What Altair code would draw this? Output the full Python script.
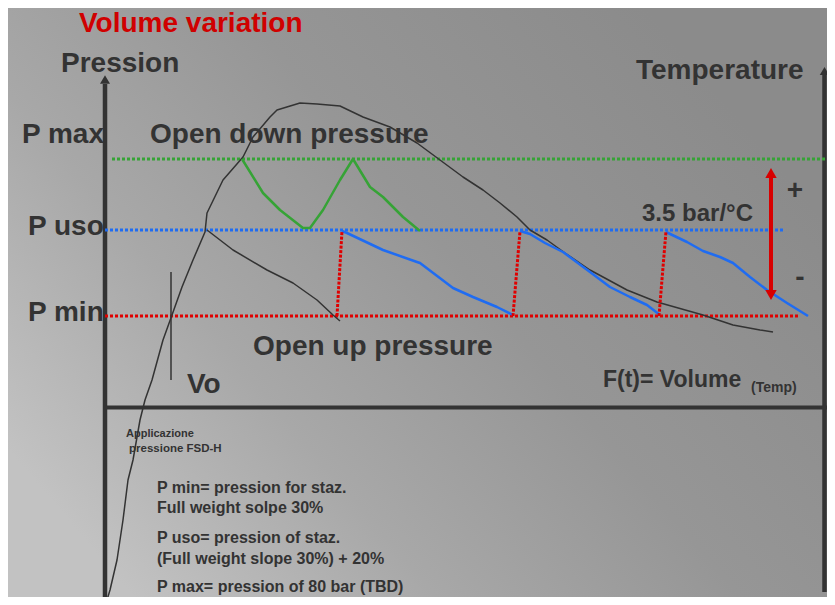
import altair as alt
import pandas as pd

# ---------------- data (picture units) ----------------
# main pressure / volume curve (thin black)
curve_x = [107, 110, 117, 123, 128, 133, 140, 145, 152, 163, 172, 182, 193, 205, 207,
           223, 243, 253, 270, 277, 300, 317, 340, 363, 390, 417, 440, 463, 483, 500,
           517, 530, 547, 565, 590, 603, 627, 657, 703, 733, 760, 773]
curve_y = [600, 590, 560, 520, 480, 460, 420, 400, 380, 340, 315, 287, 260, 232, 213,
           180, 157, 137, 117, 110, 103, 104, 106, 117, 127, 143, 160, 177, 190, 203,
           217, 230, 240, 253, 270, 277, 290, 302, 315, 325, 330, 332]
# second black branch from P uso down to P min
branch_x = [207, 233, 267, 293, 317, 333, 340]
branch_y = [230, 250, 270, 283, 300, 315, 321]
# green "open down pressure" zigzag
green_x = [242, 263, 280, 303, 310, 323, 340, 353, 370, 383, 403, 420]
green_y = [159, 193, 210, 228, 228, 210, 180, 159, 187, 197, 217, 231]
# blue decays (3 cycles)
blue1_x = [342, 347, 383, 417, 420, 453, 473, 497, 513]
blue1_y = [231, 233, 250, 262, 263, 288, 297, 307, 315]
blue2_x = [520, 530, 545, 563, 590, 610, 630, 647, 660]
blue2_y = [231, 234, 243, 252, 272, 287, 297, 305, 315]
blue3_x = [666, 687, 703, 720, 733, 750, 767, 787, 808]
blue3_y = [232, 242, 251, 257, 263, 277, 290, 303, 316]
# red re-pressurisation jumps (bottom -> top)
jump_x = [337, 513, 659]
jump_x2 = [342, 520, 666]
jump_y = [316, 316, 316]
jump_y2 = [231, 231, 231]
# pressure levels
level_names = ["P max", "P uso", "P min"]
level_y = [159, 230, 316]
level_x = [112, 105, 105]
level_x2 = [840, 783, 798]
level_colors = ["#36a336", "#1f6cf2", "#e00000"]

# text labels
label_text = ["Volume variation", "Pression", "Temperature", "P max", "Open down pressure",
              "P uso", "3.5 bar/°C", "P min", "Open up pressure", "Vo", "F(t)= Volume",
              "(Temp)", "Applicazione", "pressione FSD-H",
              "P min= pression for staz.", "Full weight  solpe 30%",
              "P uso= pression of staz.", "(Full weight slope 30%) + 20%",
              "P max= pression of 80 bar (TBD)"]
label_x = [79, 61, 636, 22, 150, 28, 642, 28, 253, 187, 603, 751, 126, 129,
           157, 157, 157, 157, 157]
label_y = [32, 72, 79, 143, 143, 235, 221, 321, 355, 393, 387, 392, 437, 452,
           493, 513, 543, 564, 592]
label_size = [28, 28, 28, 28, 28, 28, 24, 28, 28, 28, 23, 14, 11, 11.5,
              16, 16, 16, 16, 16]
label_color = ["#d00000"] + ["#333333"] * 18

sign_text = ["+", "-"]
sign_x = [795, 800]
sign_y = [199, 286]

# ---------------- scales ----------------
X0, X1, Y0, Y1 = 8, 827, 8, 597
xs = alt.Scale(domain=[X0, X1], nice=False, zero=False)
ys = alt.Scale(domain=[Y0, Y1], nice=False, zero=False, reverse=True)
DARK = "#333333"


def X(f="x"):
    return alt.X(f"{f}:Q", scale=xs, axis=None)


def Y(f="y"):
    return alt.Y(f"{f}:Q", scale=ys, axis=None)


def path(xv, yv, color, width, dash=None):
    df = pd.DataFrame({"x": xv, "y": yv, "i": list(range(len(xv)))})
    kw = dict(color=color, strokeWidth=width, strokeJoin="round")
    if dash:
        kw["strokeDash"] = dash
    return alt.Chart(df).mark_line(**kw).encode(x=X(), y=Y(), order="i:Q")


def seg(x, y, x2, y2, color, width, dash=None, cap="butt"):
    df = pd.DataFrame({"x": x, "y": y, "x2": x2, "y2": y2})
    kw = dict(color=color, strokeWidth=width, strokeCap=cap)
    if dash:
        kw["strokeDash"] = dash
    return alt.Chart(df).mark_rule(**kw).encode(
        x=X(), y=Y(), x2="x2:Q", y2="y2:Q")


def head(x, y, shape, size, color):
    df = pd.DataFrame({"x": x, "y": y})
    return alt.Chart(df).mark_point(shape=shape, size=size, filled=True, color=color,
                                    opacity=1, strokeWidth=0).encode(x=X(), y=Y())


bg = alt.Chart(pd.DataFrame({"x": [X0], "x2": [X1], "y": [Y0], "y2": [Y1]})).mark_rect(
    color=alt.Gradient(
        gradient="linear",
        stops=[alt.GradientStop(color="#c2c2c2", offset=0),
               alt.GradientStop(color="#a8a8a8", offset=0.3),
               alt.GradientStop(color="#969696", offset=0.6),
               alt.GradientStop(color="#8b8b8b", offset=1)],
        x1=0, y1=0.75, x2=0.9, y2=0.2)
).encode(x=X(), x2="x2:Q", y=Y(), y2="y2:Q")

layers = [bg]

# axes drawn as arrows
layers.append(seg([105], [600], [105], [84], DARK, 4.5))
layers.append(head([105], [79.5], "triangle-up", 100, DARK))
layers.append(seg([824.5], [592], [824.5], [75], DARK, 4.5))
layers.append(head([824.5], [71], "triangle-up", 90, DARK))
layers.append(seg([105], [407.5], [829], [407.5], DARK, 4))
layers.append(head([831], [407.5], "triangle-right", 90, DARK))

# level lines (dotted)
for yv, x1v, x2v, c in zip(level_y, level_x, level_x2, level_colors):
    layers.append(seg([x1v], [yv], [x2v], [yv], c, 3, dash=[3, 2]))

# curves
layers.append(path(curve_x, curve_y, DARK, 1.5))
layers.append(path(branch_x, branch_y, DARK, 1.5))
layers.append(path(green_x, green_y, "#36a336", 2.5))
layers.append(path(blue1_x, blue1_y, "#1f6cf2", 2.5))
layers.append(path(blue2_x, blue2_y, "#1f6cf2", 2.5))
layers.append(path(blue3_x, blue3_y, "#1f6cf2", 2.5))
layers.append(seg(jump_x, jump_y, jump_x2, jump_y2, "#e00000", 3, dash=[3, 1.5]))

# Vo marker
layers.append(seg([171], [272], [171], [380], DARK, 1.5))

# red double arrow (temperature +/-)
layers.append(seg([771], [176], [771], [292], "#d80000", 4))
layers.append(head([771], [173], "triangle-up", 130, "#d80000"))
layers.append(head([771], [295], "triangle-down", 130, "#d80000"))

labels = pd.DataFrame({"text": label_text, "x": label_x, "y": label_y,
                       "size": label_size, "color": label_color})
layers.append(alt.Chart(labels).mark_text(
    align="left", baseline="alphabetic", font="Liberation Sans", fontWeight="bold"
).encode(x=X(), y=Y(), text="text:N",
         size=alt.Size("size:Q", scale=None),
         color=alt.Color("color:N", scale=None)))

signs = pd.DataFrame({"text": sign_text, "x": sign_x, "y": sign_y})
layers.append(alt.Chart(signs).mark_text(
    align="center", baseline="alphabetic", font="Liberation Sans", fontWeight="bold",
    fontSize=28, color=DARK
).encode(x=X(), y=Y(), text="text:N"))

chart = alt.layer(*layers).properties(
    width=X1 - X0, height=Y1 - Y0,
    autosize=alt.AutoSizeParams(type="none"),
    padding=0,
).configure_view(stroke=None)

chart.save("out.html", embed_options={"renderer": "svg", "actions": False})
